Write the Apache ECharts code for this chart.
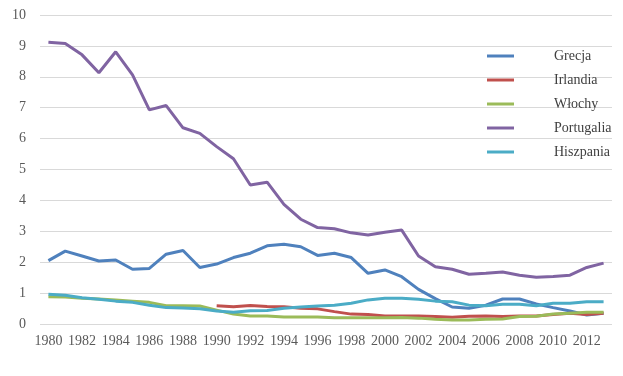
<!DOCTYPE html>
<html>
<head>
<meta charset="utf-8">
<script src="https://cdn.jsdelivr.net/npm/echarts@6/dist/echarts.min.js"></script>
<style>
  html, body { margin: 0; padding: 0; background: #fff; }
  #main { width: 623px; height: 376px; }
</style>
</head>
<body>
<div id="main"></div>
<script>
var years = [];
for (var y = 1980; y <= 2013; y++) years.push(String(y));

var grecja = [2.05, 2.36, 2.20, 2.04, 2.07, 1.77, 1.80, 2.26, 2.38, 1.83,
              1.94, 2.15, 2.29, 2.53, 2.58, 2.50, 2.22, 2.29, 2.15, 1.64,
              1.75, 1.53, 1.12, 0.82, 0.55, 0.51, 0.61, 0.81, 0.81, 0.65,
              0.53, 0.42, 0.29, 0.35];
var irlandia = [null, null, null, null, null, null, null, null, null, null,
                0.59, 0.56, 0.60, 0.57, 0.56, 0.51, 0.49, 0.40, 0.32, 0.31,
                0.26, 0.26, 0.26, 0.24, 0.22, 0.25, 0.26, 0.24, 0.26, 0.26,
                0.31, 0.35, 0.31, 0.35];
var wlochy = [0.88, 0.87, 0.83, 0.81, 0.78, 0.74, 0.70, 0.59, 0.59, 0.58,
              0.45, 0.32, 0.26, 0.26, 0.23, 0.23, 0.23, 0.20, 0.20, 0.20,
              0.20, 0.21, 0.19, 0.15, 0.13, 0.13, 0.15, 0.16, 0.24, 0.25,
              0.32, 0.35, 0.38, 0.38];
var portugalia = [9.12, 9.08, 8.71, 8.13, 8.81, 8.06, 6.93, 7.07, 6.35, 6.17,
                  5.74, 5.35, 4.50, 4.59, 3.87, 3.39, 3.12, 3.08, 2.95, 2.88,
                  2.97, 3.04, 2.20, 1.85, 1.77, 1.61, 1.64, 1.68, 1.58, 1.51,
                  1.54, 1.58, 1.83, 1.97];
var hiszpania = [0.96, 0.93, 0.85, 0.80, 0.74, 0.70, 0.61, 0.53, 0.52, 0.49,
                 0.42, 0.38, 0.43, 0.44, 0.51, 0.55, 0.58, 0.61, 0.67, 0.78,
                 0.83, 0.83, 0.80, 0.74, 0.72, 0.61, 0.59, 0.64, 0.64, 0.59,
                 0.67, 0.67, 0.72, 0.72];

var names = ['Grecja', 'Irlandia', 'Włochy', 'Portugalia', 'Hiszpania'];
var colors = ['#4F81BD', '#C0504D', '#9BBB59', '#8064A2', '#4BACC6'];
var values = [grecja, irlandia, wlochy, portugalia, hiszpania];

var chart = echarts.init(document.getElementById('main'));

var series = names.map(function (n, i) {
  return {
    name: n,
    type: 'line',
    data: values[i],
    symbol: 'none',
    connectNulls: false,
    lineStyle: { width: 3, color: colors[i] },
    itemStyle: { color: colors[i] }
  };
});

var option = {
  animation: false,
  textStyle: { fontFamily: 'Liberation Serif' },
  color: colors,
  grid: { left: 40, right: 11, top: 15, bottom: 52 },
  legend: {
    orient: 'vertical',
    left: 487,
    top: 49,
    padding: 0,
    icon: 'rect',
    itemWidth: 27,
    itemHeight: 3,
    itemGap: 10,
    data: names,
    textStyle: {
      fontFamily: 'Liberation Serif',
      fontSize: 14,
      color: '#404040',
      padding: [0, 0, 0, 35]
    }
  },
  xAxis: {
    type: 'category',
    data: years,
    boundaryGap: true,
    axisLine: { show: false },
    axisTick: { show: false },
    axisLabel: {
      interval: 1,
      fontFamily: 'Liberation Serif',
      fontSize: 14,
      color: '#595959',
      margin: 10
    }
  },
  yAxis: {
    type: 'value',
    min: 0,
    max: 10,
    interval: 1,
    axisLine: { show: false },
    axisTick: { show: false },
    splitLine: { lineStyle: { color: '#D9D9D9', width: 1 } },
    axisLabel: {
      fontFamily: 'Liberation Serif',
      fontSize: 14,
      color: '#595959',
      margin: 14
    }
  },
  series: series
};

chart.setOption(option);
</script>
</body>
</html>
